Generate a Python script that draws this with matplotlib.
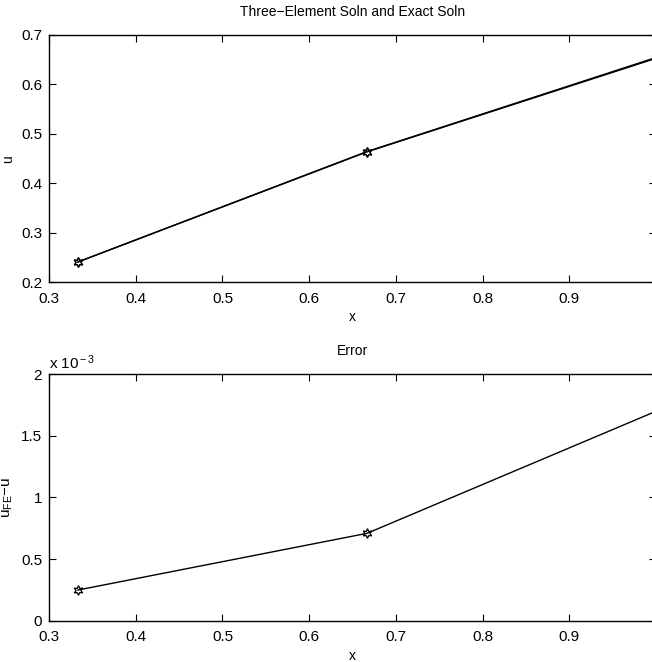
import numpy as np
import matplotlib
matplotlib.use("Agg")
import matplotlib.pyplot as plt
from matplotlib.ticker import FuncFormatter

# ---------------------------------------------------------------
# Data read off the reference picture ...
# ---------------------------------------------------------------

x_nodes  = [1/3, 2/3, 1.0]
u_fe     = [0.2415, 0.4645, 0.6545]
u_exact  = [0.2413, 0.4638, 0.6528]
err      = [0.249e-3, 0.709e-3, 1.70e-3]

x_ticks  = [0.3, 0.4, 0.5, 0.6, 0.7, 0.8, 0.9]
u_ticks  = [0.2, 0.3, 0.4, 0.5, 0.6, 0.7]
e_ticks  = [0.0, 0.5e-3, 1.0e-3, 1.5e-3, 2.0e-3]

plt.rcParams['font.family'] = ['Liberation Sans', 'DejaVu Sans']
plt.rcParams['mathtext.fontset'] = 'custom'
plt.rcParams['mathtext.rm'] = 'Liberation Sans'
plt.rcParams['mathtext.it'] = 'Liberation Sans'
plt.rcParams['font.size'] = 10

star = (6, 1, 0)

def matlab_axes(ax):
    ax.tick_params(direction='in', top=True, right=True, length=5,
                   width=0.8, labelsize=11)
    ax.tick_params(axis='x', pad=7)
    ax.tick_params(axis='y', pad=5)
    for s in ax.spines.values():
        s.set_linewidth(1.0)

fig = plt.figure(figsize=(6.52, 6.62), dpi=100)

# Top panel ...
ax1 = fig.add_axes([0.0752, 0.5733, 0.931, 0.3739])
ax1.plot(x_nodes, u_fe, color='black', lw=1.0, marker=star, ms=7,
         mfc='none', mec='black', mew=0.9)
ax1.plot(x_nodes, u_exact, color='black', lw=1.0, marker=star, ms=7,
         mfc='none', mec='black', mew=0.9)
ax1.set_xlim(0.3, 1.0)
ax1.set_ylim(0.2, 0.7)
ax1.set_xticks(x_ticks)
ax1.set_yticks(u_ticks)
ax1.xaxis.set_major_formatter(FuncFormatter(lambda v, p: f'{v:g}'))
ax1.yaxis.set_major_formatter(FuncFormatter(lambda v, p: f'{v:g}'))
ax1.set_title('Three\u2212Element Soln and Exact Soln', fontsize=10, pad=14)
ax1.set_xlabel('x', labelpad=3)
ax1.set_ylabel('u', labelpad=4)
matlab_axes(ax1)

# Bottom panel ...
ax2 = fig.add_axes([0.0752, 0.0624, 0.931, 0.3722])
ax2.plot(x_nodes, err, color='black', lw=1.0, marker=star, ms=7,
         mfc='none', mec='black', mew=0.9)
ax2.set_xlim(0.3, 1.0)
ax2.set_ylim(0.0, 2.0e-3)
ax2.set_xticks(x_ticks)
ax2.set_yticks(e_ticks)
ax2.xaxis.set_major_formatter(FuncFormatter(lambda v, p: f'{v:g}'))
ax2.yaxis.set_major_formatter(FuncFormatter(lambda v, p: f'{v*1e3:g}'))
ax2.set_title('Error', fontsize=10, pad=14)
ax2.set_xlabel('x', labelpad=3)
ax2.set_ylabel('u$_{\\rm FE}$\u2212u', labelpad=4, fontsize=11)
ax2.text(0.0, 1.01, 'x 10$^{\\rm \u22123}$', transform=ax2.transAxes,
         ha='left', va='bottom', fontsize=11)
matlab_axes(ax2)

fig.savefig('out.png', dpi=100)
